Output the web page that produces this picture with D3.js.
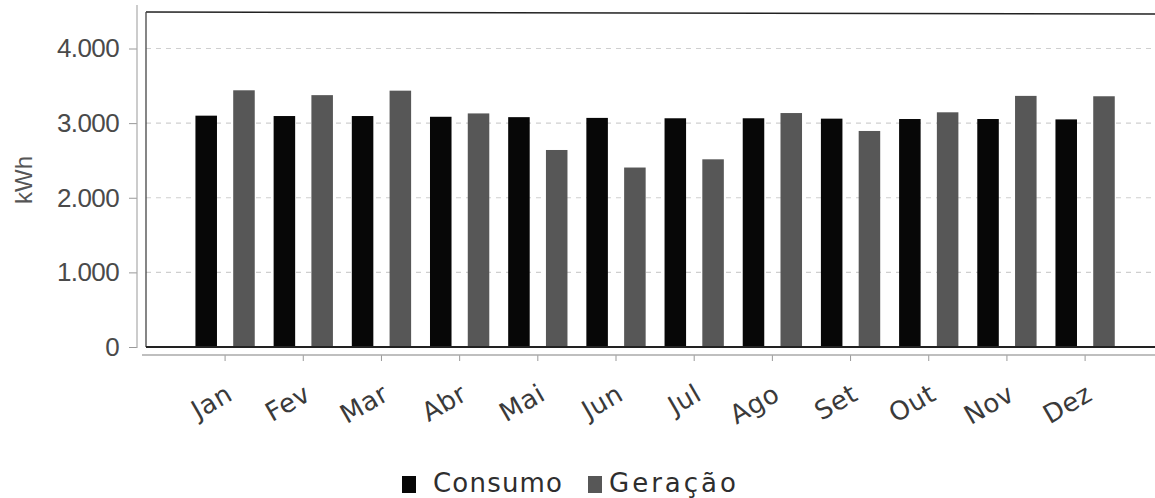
<!DOCTYPE html>
<html>
<head>
<meta charset="utf-8">
<script src="https://cdn.jsdelivr.net/npm/d3@7"></script>
<style>
  body { margin: 0; background: #fff; }
</style>
</head>
<body>
<div id="chart"></div>
<script>
const months = ["Jan", "Fev", "Mar", "Abr", "Mai", "Jun", "Jul", "Ago", "Set", "Out", "Nov", "Dez"];
const seriesNames = ["Consumo", "Geração"];
const consumo = [3100, 3095, 3095, 3085, 3080, 3070, 3065, 3065, 3060, 3055, 3055, 3050];
const geracao = [3440, 3375, 3435, 3130, 2640, 2405, 2515, 3135, 2895, 3145, 3365, 3360];
const yTicks = [0, 1000, 2000, 3000, 4000];

const width = 1155, height = 498;
const colors = { "Consumo": "#070707", "Geração": "#575757" };

const data = months.map(function(m, i) {
  return { month: m, Consumo: consumo[i], "Geração": geracao[i] };
});

const svg = d3.select("#chart").append("svg")
  .attr("width", width)
  .attr("height", height);

const plotLeft = 146, plotTop = 12, plotBottom = 347;

const y = d3.scaleLinear()
  .domain([0, 4000])
  .range([plotBottom, 48.5]);

const x0 = d3.scaleBand()
  .domain(months)
  .range([186, 1124.2])
  .padding(0);

const x1 = d3.scaleBand()
  .domain(seriesNames)
  .range([0, x0.bandwidth()])
  .paddingInner(0.43)
  .paddingOuter(0.25);

// grid lines
svg.append("g")
  .selectAll("line")
  .data(yTicks.filter(function(d) { return d > 0; }))
  .enter().append("line")
  .attr("x1", plotLeft)
  .attr("x2", width)
  .attr("y1", function(d) { return y(d); })
  .attr("y2", function(d) { return y(d); })
  .attr("stroke", "#cfcfcf")
  .attr("stroke-width", 1.2)
  .attr("stroke-dasharray", "5,5");

// bars
svg.append("g")
  .selectAll("g")
  .data(data)
  .enter().append("g")
  .attr("transform", function(d) { return "translate(" + x0(d.month) + ",0)"; })
  .selectAll("rect")
  .data(function(d) { return seriesNames.map(function(k) { return { key: k, value: d[k] }; }); })
  .enter().append("rect")
  .attr("x", function(d) { return x1(d.key); })
  .attr("y", function(d) { return y(d.value); })
  .attr("width", x1.bandwidth())
  .attr("height", function(d) { return y(0) - y(d.value); })
  .attr("fill", function(d) { return colors[d.key]; });

// frame
svg.append("line")
  .attr("x1", plotLeft).attr("x2", width)
  .attr("y1", plotTop).attr("y2", plotTop + 2)
  .attr("stroke", "#222").attr("stroke-width", 1.6);
svg.append("line")
  .attr("x1", plotLeft).attr("x2", plotLeft)
  .attr("y1", plotTop).attr("y2", plotBottom)
  .attr("stroke", "#444").attr("stroke-width", 1.3);
svg.append("line")
  .attr("x1", plotLeft).attr("x2", width)
  .attr("y1", plotBottom).attr("y2", plotBottom)
  .attr("stroke", "#222").attr("stroke-width", 1.8);

// y axis
const yAxis = svg.append("g")
  .attr("transform", "translate(137,0)")
  .call(d3.axisLeft(y)
    .tickValues(yTicks)
    .tickSize(8)
    .tickPadding(10)
    .tickFormat(function(d) { return d3.format(",")(d).replace(/,/g, "."); }));
yAxis.select(".domain").remove();
yAxis.selectAll(".tick line").attr("stroke", "#999");
yAxis.selectAll("text")
  .attr("font-family", "Liberation Sans, Arial, sans-serif")
  .attr("font-size", 26)
  .attr("letter-spacing", -0.6)
  .attr("fill", "#4a4a4a");
svg.append("line")
  .attr("x1", 137).attr("x2", 137)
  .attr("y1", 5).attr("y2", plotBottom + 1)
  .attr("stroke", "#aaa").attr("stroke-width", 1.2);

// x axis
const xAxis = svg.append("g")
  .attr("transform", "translate(0,355)")
  .call(d3.axisBottom(x0).tickSize(6));
xAxis.select(".domain").remove();
xAxis.selectAll(".tick line").attr("stroke", "#999");
xAxis.selectAll("text")
  .attr("text-anchor", "end")
  .attr("font-family", "DejaVu Sans, sans-serif")
  .attr("font-size", 26)
  .attr("letter-spacing", 0.5)
  .attr("fill", "#3a3a3a")
  .attr("y", 0).attr("dy", 0)
  .attr("transform", "translate(9,44) rotate(-30)");
svg.append("line")
  .attr("x1", 142).attr("x2", width)
  .attr("y1", 355).attr("y2", 355)
  .attr("stroke", "#aaa").attr("stroke-width", 1.3);

// y label
svg.append("text")
  .attr("transform", "translate(32,180) rotate(-90)")
  .attr("text-anchor", "middle")
  .attr("font-family", "Liberation Sans, Arial, sans-serif")
  .attr("font-size", 24)
  .attr("fill", "#555")
  .text("kWh");

// legend
const legX = [402, 588];
const legTextX = [433, 609];
const legSpacing = [1.2, 3];
seriesNames.forEach(function(k, i) {
  svg.append("rect")
    .attr("x", legX[i]).attr("y", 476)
    .attr("width", 14).attr("height", 17)
    .attr("fill", colors[k]);
  svg.append("text")
    .attr("x", legTextX[i]).attr("y", 492)
    .attr("font-family", "DejaVu Sans, sans-serif")
    .attr("font-size", 26)
    .attr("letter-spacing", legSpacing[i])
    .attr("fill", "#2e2e2e")
    .text(k);
});
</script>
</body>
</html>
